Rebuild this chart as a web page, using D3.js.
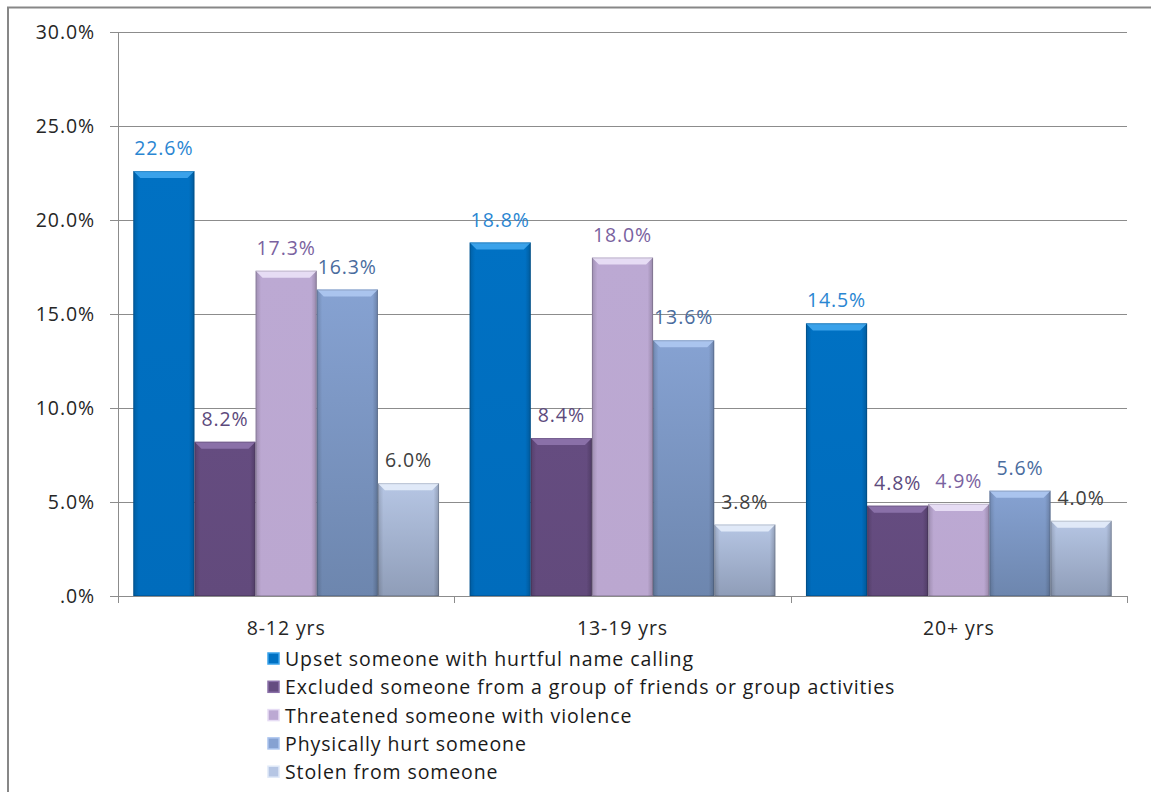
<!DOCTYPE html>
<html>
<head>
<meta charset="utf-8">
<script src="https://cdn.jsdelivr.net/npm/d3@7"></script>
<style>
  html, body { margin: 0; padding: 0; background: #fff; }
  svg { display: block; font-family: "Open Sans", Lato, sans-serif; }
  text { letter-spacing: 0.9px; }
</style>
</head>
<body>
<svg id="chart" width="1151" height="792"></svg>
<script>
const categories = ["8-12 yrs", "13-19 yrs", "20+ yrs"];
const seriesNames = [
  "Upset someone with hurtful name calling",
  "Excluded someone from a group of friends or group activities",
  "Threatened someone with violence",
  "Physically hurt someone",
  "Stolen from someone"
];
const upset     = [22.6, 18.8, 14.5];
const excluded  = [8.2, 8.4, 4.8];
const threatened= [17.3, 18.0, 4.9];
const hurt      = [16.3, 13.6, 5.6];
const stolen    = [6.0, 3.8, 4.0];
const seriesValues = [upset, excluded, threatened, hurt, stolen];
const yTicks = [0, 5, 10, 15, 20, 25, 30];

const barTop    = ["#3aa2ea", "#8a70a8", "#e6dcf4", "#aac4ee", "#e0e9f8"];
const barMid    = ["#0071c3", "#654c80", "#bca9d3", "#86a2d2", "#b6c6e4"];
const barBot    = ["#006cbc", "#624a7c", "#bba7d0", "#6d86ae", "#8f9db8"];
const labelCol  = ["#2a86d2", "#5c4a7c", "#7a62a0", "#4a6c9e", "#404040"];

const FS = 19.5;
const svg = d3.select("#chart");
const defs = svg.append("defs");

// border
svg.append("path").attr("d", "M8,800 L8,7.5 L1160,7.5")
  .attr("fill", "none").attr("stroke", "#878787").attr("stroke-width", 2);

const pLeft = 118, pRight = 1127, pTop = 32, pBottom = 596;
const y = d3.scaleLinear().domain([0, 30]).range([pBottom, pTop]);
const x0 = d3.scaleBand().domain(categories).range([pLeft, pRight]).padding(0);
const x1 = d3.scaleBand().domain(d3.range(5)).range([0, x0.bandwidth()]).paddingInner(0).paddingOuter(0.25);

// gradients
seriesNames.forEach((s, i) => {
  const g = defs.append("linearGradient").attr("id", "g" + i)
    .attr("x1", 0).attr("y1", 0).attr("x2", 0).attr("y2", 1);
  g.append("stop").attr("offset", "0%").attr("stop-color", barMid[i]);
  g.append("stop").attr("offset", "100%").attr("stop-color", barBot[i]);
  const h = defs.append("linearGradient").attr("id", "h" + i)
    .attr("x1", 0).attr("y1", 0).attr("x2", 1).attr("y2", 0);
  h.append("stop").attr("offset", "0%").attr("stop-color", "#000").attr("stop-opacity", 0.16);
  h.append("stop").attr("offset", "9%").attr("stop-color", "#000").attr("stop-opacity", 0);
  h.append("stop").attr("offset", "91%").attr("stop-color", "#000").attr("stop-opacity", 0);
  h.append("stop").attr("offset", "100%").attr("stop-color", "#000").attr("stop-opacity", 0.2);
});

// gridlines
const grid = svg.append("g");
grid.selectAll("line").data(yTicks).join("line")
  .attr("x1", pLeft - 8).attr("x2", pRight)
  .attr("y1", d => Math.round(y(d)) + 0.5).attr("y2", d => Math.round(y(d)) + 0.5)
  .attr("stroke", "#8c8c8c").attr("stroke-width", 1);

// y axis line
svg.append("line").attr("x1", pLeft + 0.5).attr("x2", pLeft + 0.5)
  .attr("y1", pTop).attr("y2", pBottom).attr("stroke", "#8c8c8c");

// y labels
svg.append("g").selectAll("text").data(yTicks).join("text")
  .attr("x", 95).attr("y", d => y(d) + 7)
  .attr("text-anchor", "end").attr("font-size", FS).attr("fill", "#262626")
  .text(d => d === 0 ? ".0%" : d.toFixed(1) + "%");

// x ticks
const bounds = [pLeft, x0(categories[1]), x0(categories[2]), pRight];
svg.append("g").selectAll("line").data(bounds).join("line")
  .attr("x1", d => Math.round(d) + 0.5).attr("x2", d => Math.round(d) + 0.5)
  .attr("y1", pBottom).attr("y2", pBottom + 7).attr("stroke", "#8c8c8c");

svg.append("g").selectAll("text").data(categories).join("text")
  .attr("x", d => x0(d) + x0.bandwidth() / 2).attr("y", 635)
  .attr("text-anchor", "middle").attr("font-size", FS).attr("fill", "#262626")
  .text(d => d);

// bars
const bars = svg.append("g");
categories.forEach((c, ci) => {
  seriesValues.forEach((vals, si) => {
    const v = vals[ci];
    const bx = x0(c) + x1(si);
    const bw = x1.bandwidth();
    const by = y(v);
    const bh = pBottom - by;
    const g = bars.append("g");
    g.append("rect").attr("x", bx).attr("y", by).attr("width", bw).attr("height", bh)
      .attr("fill", `url(#g${si})`);
    g.append("rect").attr("x", bx).attr("y", by).attr("width", bw).attr("height", bh)
      .attr("fill", `url(#h${si})`);
    const bev = 7;
    g.append("path")
      .attr("d", `M${bx},${by} L${bx + bw},${by} L${bx + bw - bev},${by + bev} L${bx + bev},${by + bev} Z`)
      .attr("fill", barTop[si]);
    g.append("rect").attr("x", bx + 0.5).attr("y", by + 0.5).attr("width", bw - 1).attr("height", bh - 1)
      .attr("fill", "none").attr("stroke", "#000").attr("stroke-opacity", 0.15);
    g.append("text").attr("x", bx + bw / 2).attr("y", by - 16)
      .attr("text-anchor", "middle").attr("font-size", FS).attr("fill", labelCol[si])
      .text(v.toFixed(1) + "%");
  });
});

// legend
const leg = svg.append("g");
seriesNames.forEach((s, i) => {
  const cy = 659 + i * 28.3;
  leg.append("rect").attr("x", 268).attr("y", cy - 6).attr("width", 11).attr("height", 11)
    .attr("fill", barMid[i]).attr("stroke", barTop[i]).attr("stroke-width", 1.5);
  leg.append("text").attr("x", 285).attr("y", cy + 7)
    .attr("font-size", FS).attr("fill", "#1a1a1a").text(s);
});
</script>
</body>
</html>
